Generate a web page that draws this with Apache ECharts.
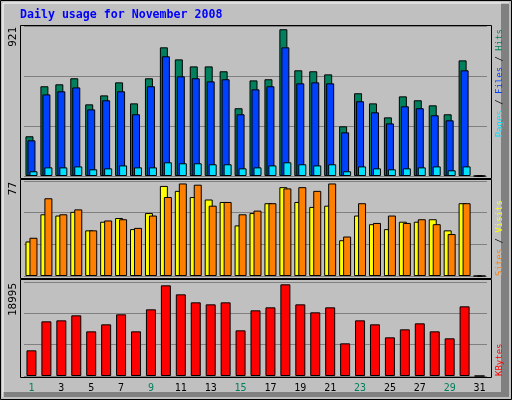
<!DOCTYPE html>
<html><head><meta charset="utf-8">
<script src="https://cdn.jsdelivr.net/npm/echarts@6/dist/echarts.min.js"></script>
<style>html,body{margin:0;padding:0;background:#C0C0C0}#c{width:512px;height:400px}</style>
</head><body><div id="c"></div>
<script>
const days = Array.from({length:31},(_,i)=>String(i+1));
const weekendDays = ['1','2','8','9','15','16','22','23','29','30'];
const hits  = [244,551,563,600,440,495,575,446,600,790,716,673,673,643,416,587,594,901,649,643,624,305,508,446,360,489,465,434,379,710,0];
const files = [219,501,520,544,409,465,520,379,551,735,612,600,581,594,379,532,551,790,569,575,569,268,459,391,323,428,416,373,342,649,0];
const pages = [29,53,53,59,41,47,65,53,53,84,78,78,72,72,47,53,65,84,72,65,72,29,59,47,41,47,53,59,35,59,0];
const sites = [28,50,49,52,37,44,47,38,51,73,69,64,62,60,41,51,59,72,60,56,57,29,49,42,38,44,44,46,37,59,0];
const visits= [31,63,50,54,37,45,46,39,49,64,75,74,57,60,50,53,59,71,72,69,75,32,59,43,49,43,46,42,34,59,0];
const kbytes= [5187,11047,11249,12260,9026,10441,12462,9026,13472,18322,16503,14887,14482,14887,9228,13270,13876,18524,14482,12866,13876,6601,11249,10441,7814,9430,10643,9026,7612,14078,0];
const maxLabels = ['921','77','18995'];
const maxVals = [921,77,18995];

const chart = echarts.init(document.getElementById('c'));
const mono = 'DejaVu Sans Mono';
const grids = [
  {left:24,width:463,top:26,height:150},
  {left:24,width:463,top:181,height:95},
  {left:24,width:463,top:282,height:94}
];
const xAxes = grids.map((g,i)=>({type:'category',gridIndex:i,data:days,
  axisLine:{show:false},axisTick:{show:false},
  axisLabel:{show:i===2,fontFamily:mono,fontSize:10,margin:7,
    color:(v)=>weekendDays.includes(v)?'#00805C':'#000'}}));
const yAxes = grids.map((g,i)=>({type:'value',gridIndex:i,min:0,max:maxVals[i],interval:maxVals[i]/3,
  axisLabel:{show:false},axisLine:{show:false},axisTick:{show:false},
  splitLine:{show:true,lineStyle:{color:'#808080',width:1}}}));
const bs = {borderColor:'#000',borderWidth:1};
const series = [
  {type:'bar',xAxisIndex:0,yAxisIndex:0,data:hits,barWidth:8,barGap:'-75%',itemStyle:{color:'#00805C',...bs},animation:false},
  {type:'bar',xAxisIndex:0,yAxisIndex:0,data:files,barWidth:8,barGap:'-75%',itemStyle:{color:'#0040FF',...bs},animation:false},
  {type:'bar',xAxisIndex:0,yAxisIndex:0,data:pages,barWidth:8,barGap:'-75%',itemStyle:{color:'#00E0FF',...bs},animation:false},
  {type:'bar',xAxisIndex:1,yAxisIndex:1,data:sites,barWidth:8,barGap:'-50%',itemStyle:{color:'#FFFF00',...bs},animation:false},
  {type:'bar',xAxisIndex:1,yAxisIndex:1,data:visits,barWidth:8,barGap:'-50%',itemStyle:{color:'#FF8000',...bs},animation:false},
  {type:'bar',xAxisIndex:2,yAxisIndex:2,data:kbytes,barWidth:10,itemStyle:{color:'#FF0000',...bs},animation:false}
];
const frame = (y1,y2)=>({type:'rect',shape:{x:20.5,y:y1+0.5,width:471,height:y2-y1},style:{fill:null,stroke:'#000',lineWidth:1},z:10});
const vtext = (x,y,align,rich,text)=>({type:'text',x:x,y:y,rotation:Math.PI/2,z:10,
  style:{text:text,rich:rich,align:align,verticalAlign:'top',font:'9px '+mono}});
const graphic = [
  {type:'rect',shape:{x:0,y:0,width:512,height:400},style:{fill:'#C0C0C0'},z:-10},
  {type:'rect',shape:{x:501,y:3,width:8,height:394},style:{fill:'#808080'},z:-9},
  {type:'rect',shape:{x:3,y:392,width:506,height:5},style:{fill:'#808080'},z:-9},
  {type:'polyline',shape:{points:[[3,397],[3,3],[509,3]]},style:{stroke:'#fff',lineWidth:1,fill:null},z:-8},
  {type:'rect',shape:{x:0.5,y:0.5,width:511,height:399},style:{fill:null,stroke:'#000',lineWidth:1},z:-7},
  {type:'text',x:20,y:9,style:{text:'Daily usage for November 2008',font:'bold 11.6px '+mono,fill:'#0000FF'}},
  frame(25,178), frame(179,278), frame(279,377),
  {type:'text',x:19,y:27,rotation:Math.PI/2,style:{text:maxLabels[0],font:'11px '+mono,fill:'#000',align:'right',verticalAlign:'bottom'}},
  {type:'text',x:19,y:182,rotation:Math.PI/2,style:{text:maxLabels[1],font:'11px '+mono,fill:'#000',align:'right',verticalAlign:'bottom'}},
  {type:'text',x:19,y:283,rotation:Math.PI/2,style:{text:maxLabels[2],font:'11px '+mono,fill:'#000',align:'right',verticalAlign:'bottom'}},
  vtext(495,29,'right',{p:{fill:'#00E0FF',font:'9px '+mono},s:{fill:'#000',font:'9px '+mono},f:{fill:'#0040FF',font:'9px '+mono},h:{fill:'#00805C',font:'9px '+mono}},'{p|Pages}{s| / }{f|Files}{s| / }{h|Hits}'),
  vtext(495,276,'left',{a:{fill:'#FF8000',font:'9px '+mono},s:{fill:'#000',font:'9px '+mono},b:{fill:'#FFFF00',font:'9px '+mono}},'{a|Sites}{s| / }{b|Visits}'),
  vtext(495,376,'left',{k:{fill:'#FF0000',font:'9px '+mono}},'{k|KBytes}')
];
chart.setOption({animation:false,grid:grids,xAxis:xAxes,yAxis:yAxes,series:series,graphic:graphic});
</script></body></html>
